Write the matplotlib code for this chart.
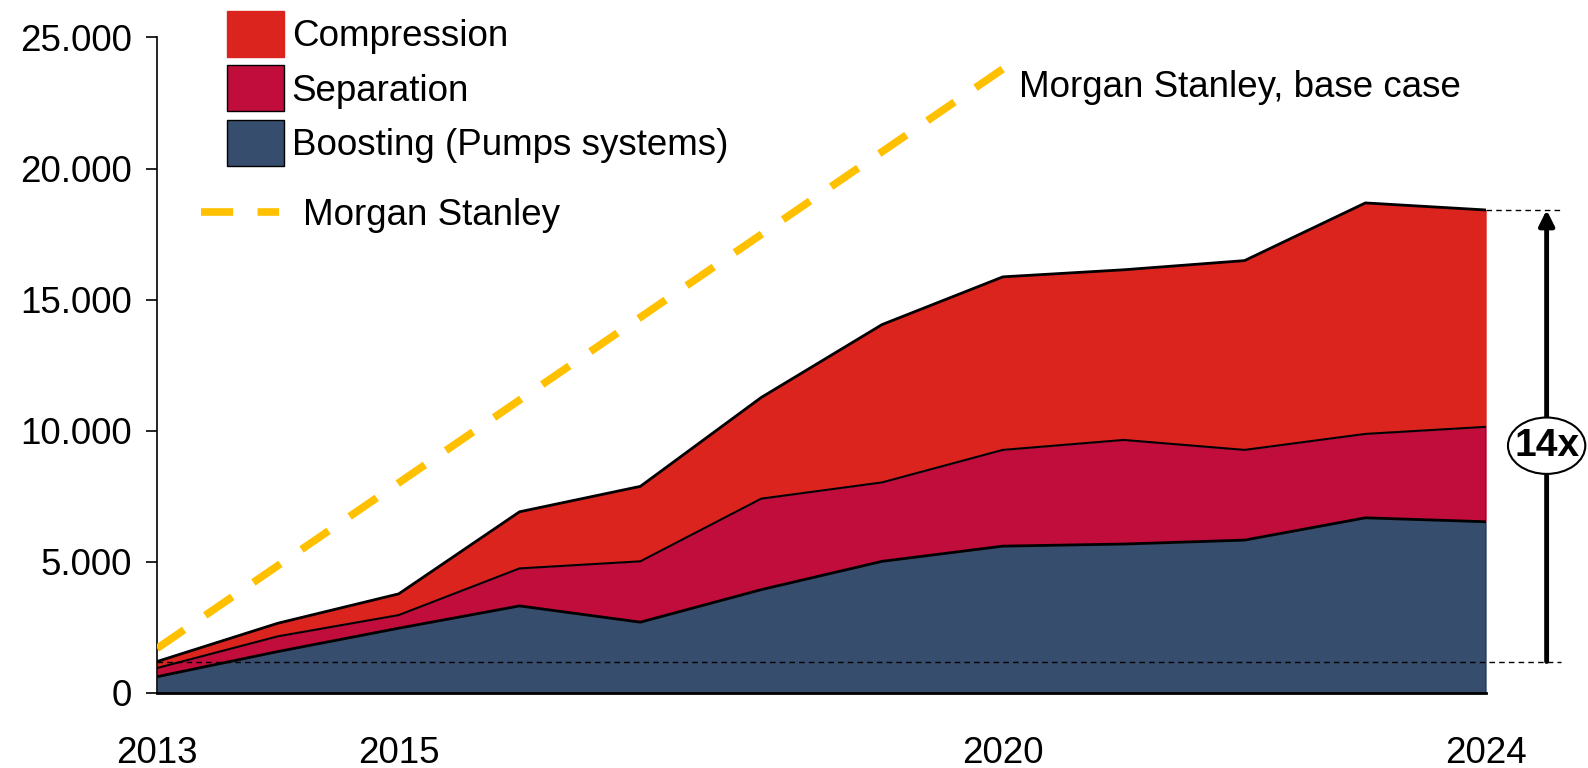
import matplotlib.pyplot as plt
import numpy as np
from matplotlib.lines import Line2D
from matplotlib.patches import Patch, Ellipse
from matplotlib.ticker import FuncFormatter

plt.rcParams['font.family'] = ['Liberation Sans', 'DejaVu Sans']

# Datos
anios = [2013, 2014, 2015, 2016, 2017, 2018, 2019, 2020, 2021, 2022, 2023, 2024]
boosting = [620, 1580, 2470, 3320, 2700, 3940, 5020, 5600, 5680, 5830, 6680, 6530]
separacion_acum = [950, 2160, 2970, 4750, 5020, 7410, 8030, 9270, 9650, 9270, 9880, 10150]
compresion_acum = [1200, 2660, 3780, 6910, 7880, 11270, 14050, 15870, 16140, 16490, 18690, 18420]

ms_anios = [2013, 2020]
ms_valores = [1700, 23800]

ticks_x = [2013, 2015, 2020, 2024]
ticks_y = [0, 5000, 10000, 15000, 20000, 25000]

col_comp = '#DC241F'
col_sep = '#C00D3C'
col_boost = '#374D6E'
col_ms = '#FFC000'

fs = 26.5

fig = plt.figure(figsize=(15.88, 7.68), dpi=100)
ax = fig.add_axes([0.0989, 0.0977, 0.8370, 0.8535])

x = np.array(anios)
b = np.array(boosting)
s = np.array(separacion_acum)
c = np.array(compresion_acum)

ax.fill_between(x, s, c, color=col_comp, lw=0)
ax.fill_between(x, b, s, color=col_sep, lw=0)
ax.fill_between(x, 0, b, color=col_boost, lw=0)
ax.plot(x, c, color='black', lw=2)
ax.plot(x, s, color='black', lw=1.5)
ax.plot(x, b, color='black', lw=2)
ax.plot([x[-1], x[-1]], [0, s[-1]], color='black', lw=1)

# Línea Morgan Stanley
ax.plot(ms_anios, ms_valores, color=col_ms, lw=5.5, dashes=(4.3, 3.34),
        dash_capstyle='butt', zorder=5)
ax.text(2020.13, 23085, 'Morgan Stanley, base case', fontsize=fs, va='center', ha='left')

# Anotación 14x
ax.plot([2013, 2024.62], [c[0], c[0]], color='black', lw=1, ls=(0, (4, 3)), clip_on=False)
ax.plot([2024, 2024.62], [c[-1], c[-1]], color='black', lw=1, ls=(0, (4, 3)), clip_on=False)
ax.annotate('', xy=(2024.5, c[-1]), xytext=(2024.5, c[0]), annotation_clip=False,
            arrowprops=dict(arrowstyle='-|>,head_length=0.9,head_width=0.45', lw=3.5, color='black',
                            shrinkA=0, shrinkB=0))
ell = Ellipse((2024.5, 9430), width=0.64, height=2150, facecolor='white', edgecolor='black',
              lw=1.5, clip_on=False, zorder=6)
ax.add_patch(ell)
ax.text(2024.5, 9430, '14x', fontsize=28, fontweight='bold', ha='center', va='center', zorder=7)

ax.set_xlim(2013, 2024)
ax.set_ylim(0, 25000)
ax.set_xticks(ticks_x)
ax.set_yticks(ticks_y)
ax.yaxis.set_major_formatter(FuncFormatter(lambda v, p: f'{int(v):,}'.replace(',', '.')))
ax.tick_params(axis='x', length=0, pad=31, labelsize=fs)
ax.tick_params(axis='y', length=8, width=1.2, pad=10, labelsize=fs)
for lado in ['top', 'right']:
    ax.spines[lado].set_visible(False)
ax.spines['left'].set_linewidth(1.2)
ax.spines['bottom'].set_linewidth(2)

# Leyendas
parches = [Patch(facecolor=col_comp, edgecolor=col_comp, label='Compression'),
           Patch(facecolor=col_sep, edgecolor='black', label='Separation'),
           Patch(facecolor=col_boost, edgecolor='black', label='Boosting (Pumps systems)')]
leg1 = fig.legend(handles=parches, loc='upper left', bbox_to_anchor=(0.1429, 0.9857),
                  frameon=False, fontsize=fs, handlelength=1.54, handleheight=1.546,
                  handletextpad=0.22, labelspacing=0.23, borderpad=0, borderaxespad=0)
linea = [Line2D([0], [0], color=col_ms, lw=5.5, dashes=(4.2, 3.2), label='Morgan Stanley')]
leg2 = fig.legend(handles=linea, loc='center left', bbox_to_anchor=(0.1264, 0.719),
                  frameon=False, fontsize=fs, handlelength=2.12, handletextpad=0.67,
                  borderpad=0, borderaxespad=0)

fig.savefig('out.png', dpi=100)
